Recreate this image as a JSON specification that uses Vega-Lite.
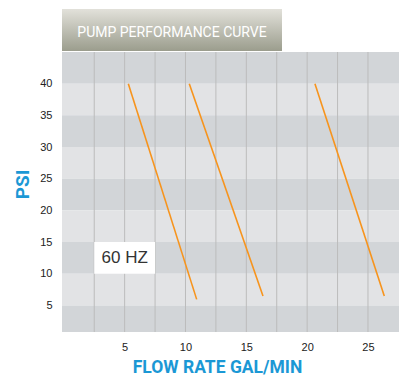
{
  "$schema": "https://vega.github.io/schema/vega-lite/v6.json",
  "background": "white",
  "padding": {"left": 13, "top": 9, "right": 5, "bottom": 5},
  "spacing": 0,
  "config": {"view": {"stroke": null}},
  "datasets": {
    "bands": [
      {"lo": 40, "hi": 45, "shade": "dark"},
      {"lo": 35, "hi": 40, "shade": "light"},
      {"lo": 30, "hi": 35, "shade": "dark"},
      {"lo": 25, "hi": 30, "shade": "light"},
      {"lo": 20, "hi": 25, "shade": "dark"},
      {"lo": 15, "hi": 20, "shade": "light"},
      {"lo": 10, "hi": 15, "shade": "dark"},
      {"lo": 5, "hi": 10, "shade": "light"},
      {"lo": 0, "hi": 5, "shade": "dark"}
    ],
    "gridlines": [
      {"flow": 2.5}, {"flow": 5}, {"flow": 7.5}, {"flow": 10}, {"flow": 12.5},
      {"flow": 15}, {"flow": 17.5}, {"flow": 20}, {"flow": 22.5}, {"flow": 25}
    ],
    "curves": [
      {"series": "A", "flow": 5.3, "psi": 40},
      {"series": "A", "flow": 10.92, "psi": 5.95},
      {"series": "B", "flow": 10.31, "psi": 40},
      {"series": "B", "flow": 16.37, "psi": 6.5},
      {"series": "C", "flow": 20.64, "psi": 40},
      {"series": "C", "flow": 26.34, "psi": 6.5}
    ],
    "note": [
      {"x0": 2.5, "x1": 7.5, "y0": 10, "y1": 15, "xm": 5, "ym": 12.5, "label": "60 HZ"}
    ],
    "heading": [{"label": "PUMP PERFORMANCE CURVE"}]
  },
  "vconcat": [
    {
      "width": 220,
      "height": 42,
      "view": {
        "stroke": null,
        "fill": {
          "gradient": "linear",
          "x1": 0, "y1": 0, "x2": 0, "y2": 1,
          "stops": [
            {"offset": 0, "color": "#e2e1da"},
            {"offset": 1, "color": "#9b9d8d"}
          ]
        }
      },
      "data": {"name": "heading"},
      "mark": {"type": "text", "color": "white", "fontSize": 14, "font": "Liberation Sans Narrow, Roboto, sans-serif", "align": "center", "baseline": "middle", "dy": 3},
      "encoding": {
        "x": {"datum": 0.5, "type": "quantitative", "scale": {"domain": [0, 1]}, "axis": null},
        "y": {"datum": 0.5, "type": "quantitative", "scale": {"domain": [0, 1]}, "axis": null},
        "text": {"field": "label"}
      }
    },
    {
      "width": 337,
      "height": 280,
      "encoding": {
        "x": {
          "type": "quantitative",
          "scale": {"domain": [-0.15, 27.55], "nice": false, "zero": false},
          "axis": {
            "values": [5, 10, 15, 20, 25],
            "grid": false,
            "domain": false, "ticks": false,
            "labelFont": "Liberation Sans, sans-serif", "labelFontSize": 11, "labelColor": "#222", "labelPadding": 9,
            "title": "FLOW RATE GAL/MIN",
            "titleFont": "Liberation Sans Narrow, Roboto, sans-serif", "titleFontSize": 17.5, "titleFontWeight": "bold",
            "titleColor": "#1b98d5", "titlePadding": 6, "titleX": 155
          }
        },
        "y": {
          "type": "quantitative",
          "scale": {"domain": [0.8, 45], "nice": false, "zero": false},
          "axis": {
            "values": [5, 10, 15, 20, 25, 30, 35, 40],
            "grid": false, "domain": false, "ticks": false,
            "labelFont": "Liberation Sans, sans-serif", "labelFontSize": 11, "labelColor": "#222", "labelPadding": 10,
            "title": "PSI",
            "titleFont": "Liberation Sans Narrow, Roboto, sans-serif", "titleFontSize": 19, "titleFontWeight": "bold",
            "titleColor": "#1b98d5", "titlePadding": 7, "titleY": 132
          }
        }
      },
      "layer": [
        {
          "data": {"name": "bands"},
          "mark": {"type": "rect", "clip": true},
          "encoding": {
            "y": {"field": "lo"},
            "y2": {"field": "hi"},
            "color": {"field": "shade", "type": "nominal", "scale": {"domain": ["dark", "light"], "range": ["#d2d5d8", "#e2e3e5"]}, "legend": null}
          }
        },
        {
          "data": {"name": "gridlines"},
          "mark": {"type": "rule", "color": "#bcbcbc", "strokeWidth": 1},
          "encoding": {
            "x": {"field": "flow"}
          }
        },
        {
          "data": {"name": "note"},
          "mark": {"type": "rect", "color": "white"},
          "encoding": {
            "x": {"field": "x0"},
            "x2": {"field": "x1"},
            "y": {"field": "y0"},
            "y2": {"field": "y1"}
          }
        },
        {
          "data": {"name": "note"},
          "mark": {"type": "text", "fontSize": 17, "font": "Liberation Sans, sans-serif", "color": "#333", "align": "center", "baseline": "middle"},
          "encoding": {
            "x": {"field": "xm"},
            "y": {"field": "ym"},
            "text": {"field": "label"}
          }
        },
        {
          "data": {"name": "curves"},
          "mark": {"type": "line", "color": "#f7941d", "strokeWidth": 1.6},
          "encoding": {
            "x": {"field": "flow"},
            "y": {"field": "psi"},
            "detail": {"field": "series"}
          }
        }
      ]
    }
  ]
}
